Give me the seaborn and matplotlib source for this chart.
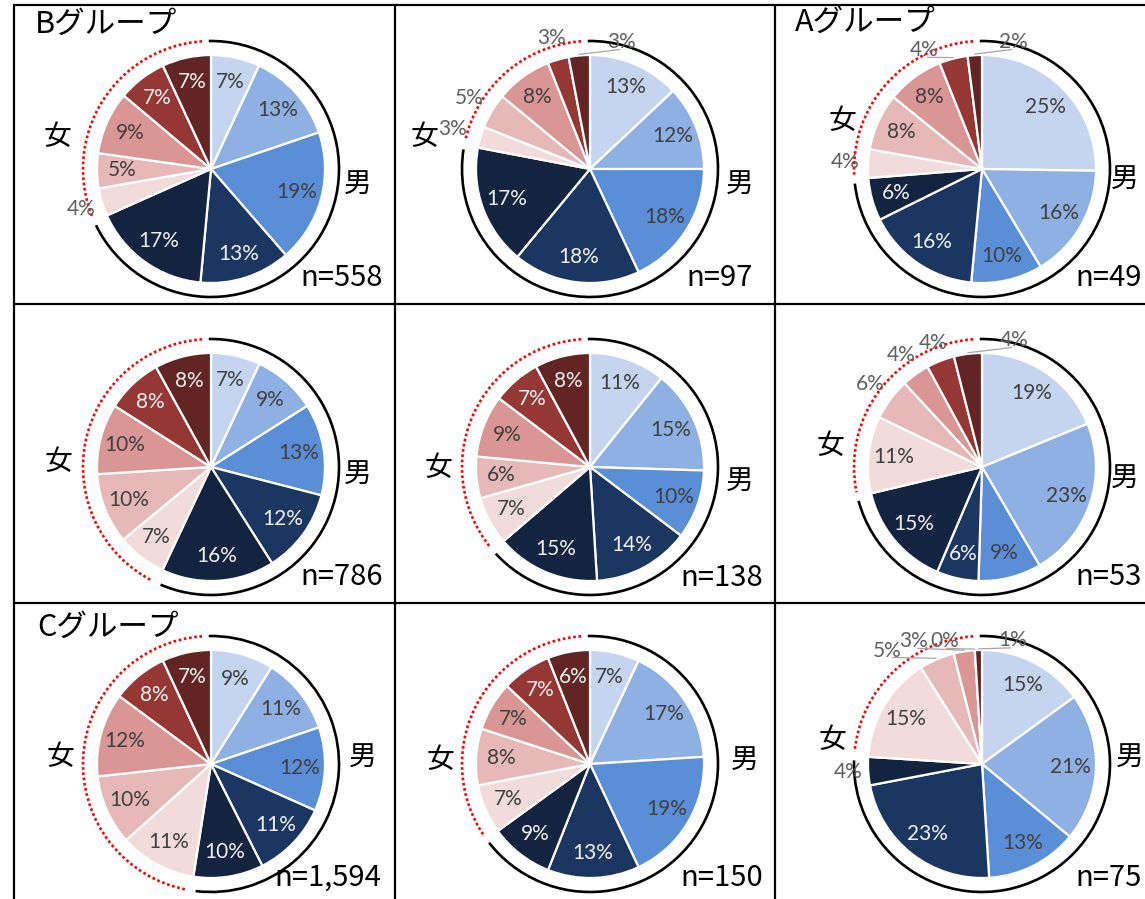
import matplotlib
matplotlib.use("Agg")
import matplotlib.pyplot as plt
from matplotlib.patches import Arc
import numpy as np
import seaborn as sns

# ---------------------------------------------------------------- data
group_titles = ["Bグループ", "", "Aグループ", "", "", "", "Cグループ", "", ""]
sample_sizes = ["n=558", "n=97", "n=49", "n=786", "n=138", "n=53",
                "n=1,594", "n=150", "n=75"]

# male shares (%), lightest band first, clockwise from 12 o'clock
male_shares = [
    [7, 13, 19, 13, 17],
    [13, 12, 18, 18, 17],
    [25, 16, 10, 16, 6],
    [7, 9, 13, 12, 16],
    [11, 15, 10, 14, 15],
    [19, 23, 9, 6, 15],
    [9, 11, 12, 11, 10],
    [7, 17, 19, 13, 9],
    [15, 21, 13, 23, 4],
]
# female shares (%), lightest band first, continuing clockwise
female_shares = [
    [4, 5, 9, 7, 7],
    [3, 5, 8, 3, 3],
    [4, 8, 8, 4, 2],
    [7, 10, 10, 8, 8],
    [7, 6, 9, 7, 8],
    [11, 6, 4, 4, 4],
    [11, 10, 12, 8, 7],
    [7, 8, 7, 7, 6],
    [15, 5, 3, 0, 1],
]
male_label = "男"
female_label = "女"

# ---------------------------------------------------------------- style
sns.set_theme(style="white")
plt.rcParams["font.family"] = ["Lato", "Noto Sans CJK JP", "DejaVu Sans"]
JP = ["Noto Sans CJK JP", "DejaVu Sans"]

male_colors = sns.color_palette(["#c6d5ef", "#8eb0e2", "#5a8ed7", "#1b3761", "#132440"])
female_colors = sns.color_palette(["#f2dcdb", "#e6b9b8", "#d99694", "#953735", "#632523"])
slice_colors = list(male_colors) + list(female_colors)
dark_slices = {3, 4, 8, 9}

W, H = 1145, 899
col_x = [211, 590, 982]
row_y = [169, 467, 764]
R = 114          # pie radius in pixels
RING_R = 128     # radius of the male / female bracket arcs
GAP = 2          # degrees left open between the two arcs
PCT_SIZE = 15

# labels drawn outside their slice: index -> (clock angle or None for mid, distance / R)
outside_labels = [
    {5: (None, 1.19)},
    {5: (None, 1.26), 6: (None, 1.23), 8: (None, 1.2), 9: (14, 1.15)},
    {5: (None, 1.2), 8: (334, 1.16), 9: (14, 1.15)},
    {},
    {},
    {6: (None, 1.22), 7: (None, 1.21), 8: (None, 1.17), 9: (14, 1.15)},
    {},
    {},
    {4: (None, 1.18), 6: (320, 1.29), 7: (331, 1.23), 8: (343, 1.13), 9: (14, 1.12)},
]
# (dx, dy) pixel offsets of 男 / 女 from the pie centre (dy downward)
male_text_off = [(147, 15), (150, 15), (143, 10), (147, 7), (150, 14), (143, 11),
                 (152, -7), (155, -4), (148, -7)]
female_text_off = [(-154, -32), (-166, -32), (-140, -48), (-153, -5), (-152, 1),
                   (-152, -21), (-151, -7), (-150, -4), (-150, -24)]
n_text_pos = [(383, 278), (753, 278), (1142, 278), (383, 577), (763, 578),
              (1142, 577), (381, 878), (763, 878), (1142, 878)]
title_pos = [(35, 24), None, (795, 22), None, None, None, (37, 627), None, None]

fig = plt.figure(figsize=(W / 100, H / 100), dpi=100)
ax = fig.add_axes([0, 0, 1, 1])


def Y(y):
    return H - y


def polar(cx, cy, ang, dist):
    a = np.deg2rad(ang)
    return cx + dist * np.cos(a), cy + dist * np.sin(a)


for k in range(9):
    cx = col_x[k % 3]
    cy = Y(row_y[k // 3])
    vals = male_shares[k] + female_shares[k]
    wedges, _ = ax.pie(vals, colors=slice_colors, startangle=90, counterclock=False,
                       radius=R, center=(cx, cy), frame=True, normalize=True,
                       wedgeprops=dict(edgecolor="white", linewidth=1.6))

    for i, (w, v) in enumerate(zip(wedges, vals)):
        mid = 0.5 * (w.theta1 + w.theta2)
        txt = f"{v}%"
        if i in outside_labels[k]:
            clock, d = outside_labels[k][i]
            ang = mid if clock is None else 90 - clock
            x, y = polar(cx, cy, ang, d * R)
            ax.text(x, y, txt, ha="center", va="center", fontsize=PCT_SIZE,
                    color="#606060", zorder=5)
            if clock is not None:
                x0, y0 = polar(cx, cy, mid, R * 1.01)
                x1, y1 = polar(cx, cy, ang, R * (d - 0.07))
                ax.plot([x0, x1], [y0, y1], color="#a6a6a6", lw=0.9, zorder=4)
        else:
            x, y = polar(cx, cy, mid, 0.78 * R)
            ax.text(x, y, txt, ha="center", va="center", fontsize=PCT_SIZE,
                    color="#f0f0f0" if i in dark_slices else "#404040", zorder=5)

    # bracket arcs: solid black over the male part, red dotted over the female part
    boundary = 360.0 * sum(male_shares[k]) / sum(vals)
    ax.add_patch(Arc((cx, cy), 2 * RING_R, 2 * RING_R,
                     theta1=90 - (boundary - GAP), theta2=91,
                     color="black", lw=1.9, zorder=3))
    ax.add_patch(Arc((cx, cy), 2 * RING_R, 2 * RING_R,
                     theta1=94, theta2=360 + 90 - (boundary + GAP),
                     color="red", lw=1.9, linestyle=(0, (1, 1)), zorder=3))

    mx, my = male_text_off[k]
    fx, fy = female_text_off[k]
    ax.text(cx + mx, cy - my, male_label, ha="center", va="center",
            fontsize=20, family=JP, color="black")
    ax.text(cx + fx, cy - fy, female_label, ha="center", va="center",
            fontsize=20, family=JP, color="black")

    nx, ny = n_text_pos[k]
    ax.text(nx, Y(ny), sample_sizes[k], ha="right", va="center",
            fontsize=21, family=JP, color="black", zorder=6)

    if title_pos[k] is not None:
        tx, ty = title_pos[k]
        ax.text(tx, Y(ty), group_titles[k], ha="left", va="center",
                fontsize=22, family=JP, color="black")

# panel frame lines
for yy in (5, 304, 603):
    ax.plot([14, W], [Y(yy), Y(yy)], color="black", lw=1.6, zorder=7)
for xx in (14, 395, 775):
    ax.plot([xx, xx], [Y(5), 0], color="black", lw=1.6, zorder=7)

ax.set_xlim(0, W)
ax.set_ylim(0, H)
ax.set_aspect("equal")
ax.axis("off")

fig.savefig("out.png", dpi=100, facecolor="white")
